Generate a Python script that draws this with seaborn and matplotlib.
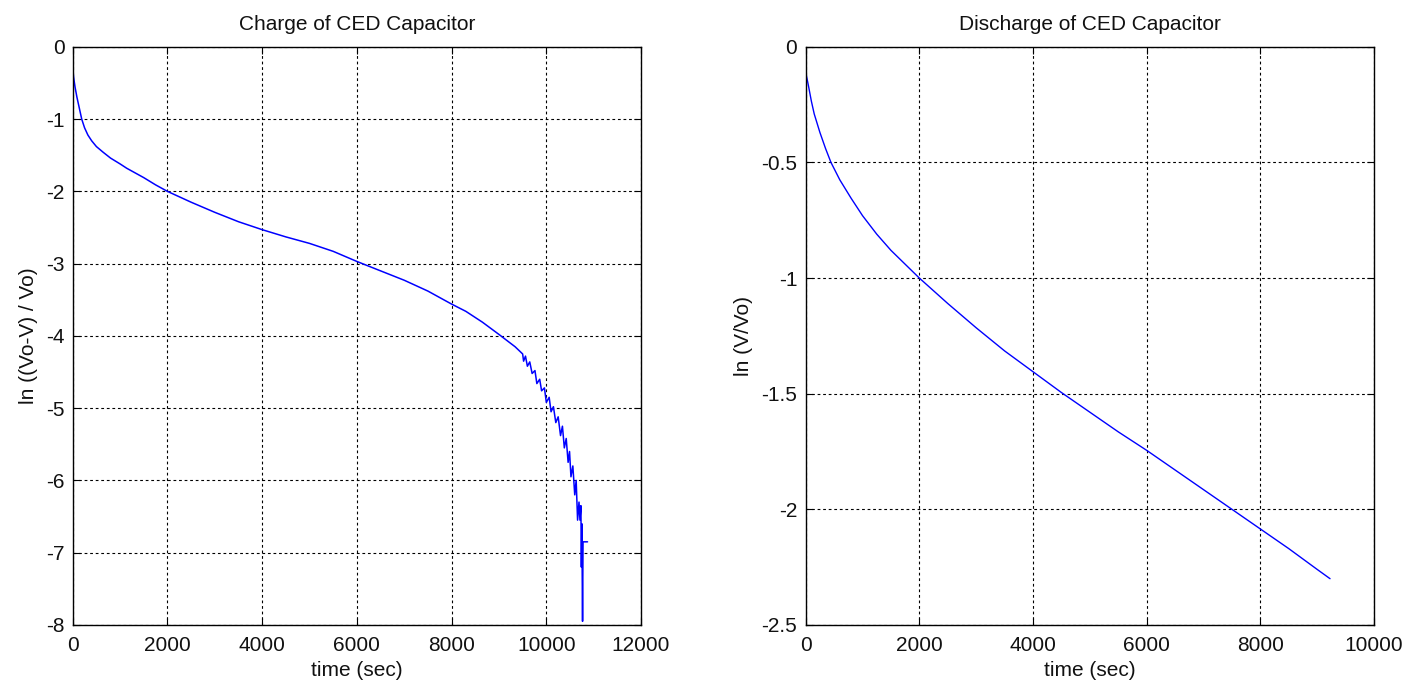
import matplotlib
matplotlib.use("Agg")
import matplotlib.pyplot as plt
import seaborn as sns
import pandas as pd

# Charge curve: ln((Vo-V)/Vo) against time (s)
charge_t = [0, 5, 25, 50, 90, 130, 190, 250, 320, 400, 500, 645, 800, 1000,
            1140, 1500, 1750, 2000, 2500, 3000, 3500, 4000, 4500, 5000, 5500,
            6000, 6500, 7000, 7500, 8000, 8300, 8650, 9000, 9340,
            9500, 9520, 9560, 9600, 9650, 9700, 9760, 9800, 9860, 9900, 9960,
            10000, 10060, 10100, 10150, 10200, 10250, 10300, 10340, 10380,
            10420, 10460, 10490, 10520, 10560, 10600, 10630, 10660, 10690,
            10710, 10730, 10740, 10750, 10765, 10775, 10800, 10870]
charge_v = [0.0, -0.34, -0.45, -0.56, -0.70, -0.82, -1.00, -1.12, -1.22, -1.30,
            -1.38, -1.46, -1.54, -1.62, -1.68, -1.81, -1.91, -2.00, -2.15, -2.29,
            -2.42, -2.53, -2.63, -2.72, -2.83, -2.97, -3.10, -3.23, -3.38, -3.56,
            -3.66, -3.81, -3.98, -4.15,
            -4.25, -4.35, -4.28, -4.42, -4.36, -4.52, -4.48, -4.66, -4.60, -4.76,
            -4.72, -4.92, -4.85, -5.05, -4.98, -5.20, -5.12, -5.38, -5.25, -5.55,
            -5.42, -5.75, -5.60, -5.95, -5.80, -6.20, -6.00, -6.55, -6.30, -6.55,
            -6.35, -7.20, -6.60, -7.95, -6.85, -6.85, -6.85]

# Discharge curve: ln(V/Vo) against time (s)
discharge_t = [0, 5, 50, 100, 150, 250, 350, 445, 600, 800, 1000, 1250, 1500,
               1750, 2000, 2500, 3000, 3500, 4000, 4500, 5000, 5500, 6000, 6500,
               7000, 7500, 8000, 8500, 9000, 9226]
discharge_v = [0.0, -0.115, -0.17, -0.235, -0.29, -0.37, -0.44, -0.50, -0.575,
               -0.655, -0.73, -0.81, -0.88, -0.94, -1.00, -1.11, -1.215, -1.315,
               -1.405, -1.495, -1.58, -1.665, -1.745, -1.83, -1.915, -2.00,
               -2.085, -2.17, -2.26, -2.30]

charge_xticks = [0, 2000, 4000, 6000, 8000, 10000, 12000]
charge_yticks = [0, -1, -2, -3, -4, -5, -6, -7, -8]
discharge_xticks = [0, 2000, 4000, 6000, 8000, 10000]
discharge_yticks = [0, -0.5, -1, -1.5, -2, -2.5]

sns.set_theme(style="white")
plt.rcParams["font.family"] = ["Liberation Sans", "DejaVu Sans"]
plt.rcParams["axes.unicode_minus"] = False

FS = 15
fig = plt.figure(figsize=(14.12, 6.89), dpi=100)
ax1 = fig.add_axes([0.0515, 0.093, 0.4025, 0.839])
ax2 = fig.add_axes([0.5706, 0.093, 0.4025, 0.839])

charge_df = pd.DataFrame({"t": charge_t, "v": charge_v})
discharge_df = pd.DataFrame({"t": discharge_t, "v": discharge_v})

sns.lineplot(data=charge_df, x="t", y="v", ax=ax1, color="#0000ff",
             linewidth=1.1, sort=False, estimator=None)
sns.lineplot(data=discharge_df, x="t", y="v", ax=ax2, color="#0000ff",
             linewidth=1.0, sort=False, estimator=None)


def style_axes(ax, xticks, yticks, ylabels, title, ylabel):
    ax.set_xlim(xticks[0], xticks[-1])
    ax.set_ylim(yticks[-1], yticks[0])
    ax.set_xticks(xticks)
    ax.set_xticklabels([str(t) for t in xticks])
    ax.set_yticks(yticks)
    ax.set_yticklabels(ylabels)
    ax.grid(True, color="black", linestyle=(0, (2.5, 2.5)), linewidth=0.8)
    for s in ax.spines.values():
        s.set_color("black")
        s.set_linewidth(1.0)
        s.set_visible(True)
    ax.tick_params(direction="in", length=5, width=0.8, color="black",
                   labelsize=FS, labelcolor="#111111", pad=8,
                   top=True, right=True, bottom=True, left=True)
    ax.tick_params(axis="y", pad=6)
    ax.set_title(title, fontsize=FS, color="#111111", pad=12)
    ax.set_xlabel("time (sec)", fontsize=FS, color="#111111", labelpad=4)
    ax.set_ylabel(ylabel, fontsize=FS, color="#111111", labelpad=6)


style_axes(ax1, charge_xticks, charge_yticks,
           [str(v) for v in charge_yticks],
           "Charge of CED Capacitor", "ln ((Vo-V) / Vo)")
style_axes(ax2, discharge_xticks, discharge_yticks,
           ["0", "-0.5", "-1", "-1.5", "-2", "-2.5"],
           "Discharge of CED Capacitor", "ln (V/Vo)")

fig.savefig("out.png", dpi=100, facecolor="white")
